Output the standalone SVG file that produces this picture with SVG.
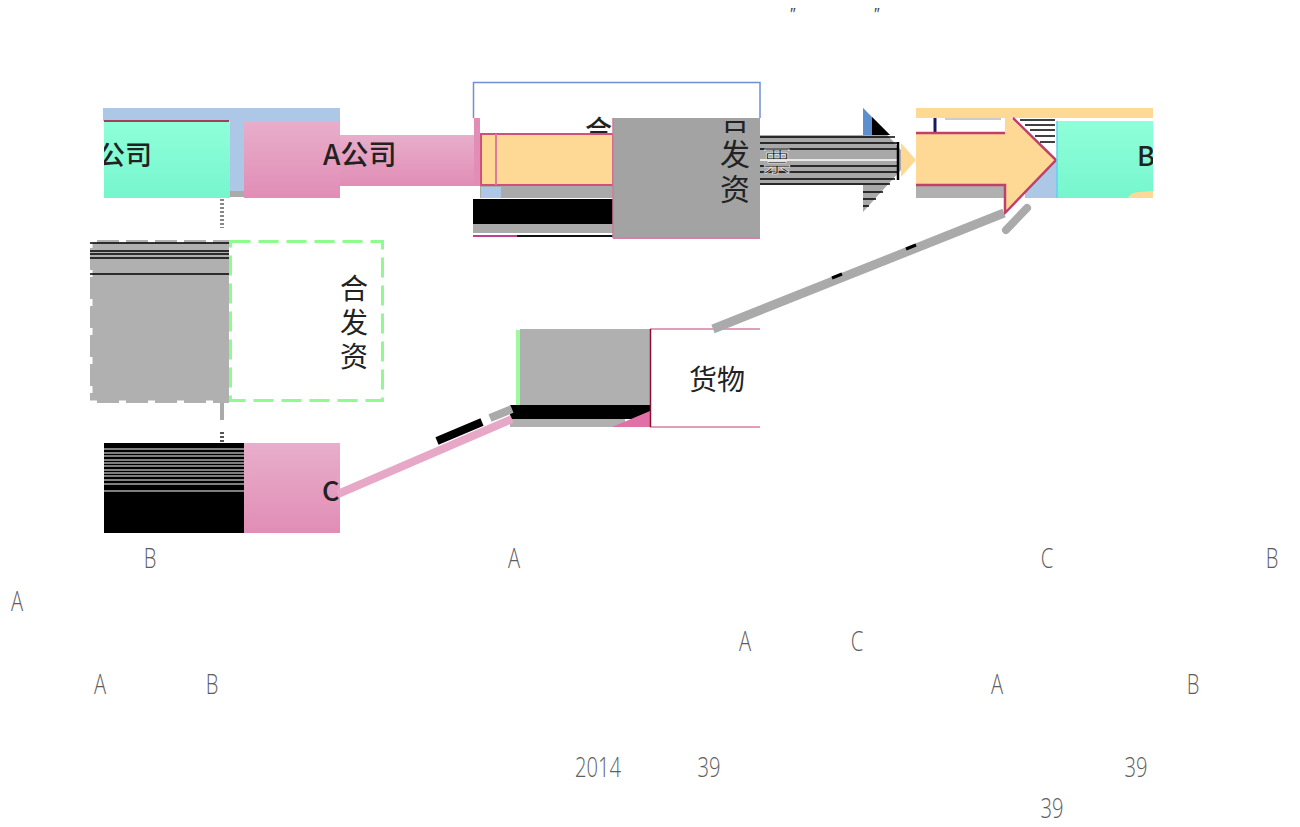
<svg xmlns="http://www.w3.org/2000/svg" width="1300" height="827" viewBox="0 0 1300 827">
<defs>
<linearGradient id="teal" x1="0" y1="0" x2="0" y2="1"><stop offset="0" stop-color="#8fffd9"/><stop offset="1" stop-color="#76f6cd"/></linearGradient>
<linearGradient id="pink" x1="0" y1="0" x2="0" y2="1"><stop offset="0" stop-color="#e8aecb"/><stop offset="1" stop-color="#e18db5"/></linearGradient>
<clipPath id="clipTL"><rect x="104" y="121" width="126" height="77"/></clipPath>
<clipPath id="clipGray"><rect x="613" y="118" width="147" height="120"/></clipPath>
<clipPath id="clipB"><rect x="1057" y="121" width="96" height="77"/></clipPath>
<clipPath id="clipC"><rect x="244" y="443" width="96" height="90"/></clipPath>
</defs>
<style>
.cjk{font-family:"Noto Sans CJK SC","Noto Sans",sans-serif;font-size:27px;font-weight:500;fill:#222;}
.vert{writing-mode:tb;glyph-orientation-vertical:0;}
.lbl{font-family:"Open Sans","Liberation Sans",sans-serif;font-weight:300;font-size:28px;fill:#5e5e5e;text-anchor:middle;}
.stripe{stroke:#000;stroke-width:1.5;}
.gstripe{stroke:#aaa;stroke-width:1.5;}
</style>
<rect width="1300" height="827" fill="#fff"/>

<!-- top quotes -->
<text x="792" y="20" font-family="Liberation Sans, sans-serif" font-size="16" fill="#444" text-anchor="middle" font-style="italic">″</text>
<text x="876" y="20" font-family="Liberation Sans, sans-serif" font-size="16" fill="#444" text-anchor="middle" font-style="italic">″</text>

<!-- Node: B company (top-left teal) -->
<g id="node-b-company-left">
<rect x="103" y="108" width="237" height="13" fill="#adc7e7"/>
<rect x="104" y="121" width="126" height="77" fill="url(#teal)"/>
<line x1="104" y1="121" x2="229" y2="121" stroke="#a0405a" stroke-width="2"/>
<text class="cjk" x="98" y="165" clip-path="url(#clipTL)">公司</text>
<rect x="230" y="108" width="14" height="84" fill="#adc7e7"/>
<rect x="230" y="191" width="14" height="6" fill="#aaa"/>
</g>
<!-- Node: A company -->
<g id="node-a-company">
<rect x="244" y="121" width="96" height="77" fill="url(#pink)"/>
<rect x="340" y="135" width="140" height="51" fill="url(#pink)"/>
<text class="cjk" x="323" y="165" style="font-size:28px">A公司</text>
</g>

<!-- Node: contract (green dashed) -->
<g id="node-contract-left">
<rect x="90" y="240" width="139" height="163" fill="#b0b0b0"/>
<path d="M90,241 H229 M91,241 V403 M90,402 H229" fill="none" stroke="#fff" stroke-width="3" stroke-dasharray="7 22"/>
<line class="stripe" x1="90" y1="243" x2="229" y2="243"/>
<line class="stripe" x1="90" y1="251" x2="229" y2="251"/>
<line class="stripe" x1="90" y1="254" x2="229" y2="254"/>
<line class="stripe" x1="90" y1="258" x2="229" y2="258"/>
<line class="stripe" x1="90" y1="274" x2="229" y2="274"/>
<rect x="230.5" y="241.5" width="152" height="159" fill="#fff" stroke="#8efb8e" stroke-width="3" stroke-dasharray="20 8"/>
<text class="cjk vert" x="354" y="274" style="font-size:28px;font-weight:400" letter-spacing="6">合发资</text>
</g>

<!-- Node: C company -->
<g id="node-c-company">
<rect x="104" y="443" width="140" height="90" fill="#000"/>
<line class="gstripe" x1="104" y1="449" x2="244" y2="449"/>
<line class="gstripe" x1="104" y1="453" x2="244" y2="453"/>
<line class="gstripe" x1="104" y1="456" x2="244" y2="456"/>
<line class="gstripe" x1="104" y1="460" x2="244" y2="460"/>
<line class="gstripe" x1="104" y1="463" x2="244" y2="463"/>
<line class="gstripe" x1="104" y1="466" x2="244" y2="466"/>
<line class="gstripe" x1="104" y1="470" x2="244" y2="470"/>
<line class="gstripe" x1="104" y1="473" x2="244" y2="473"/>
<line class="gstripe" x1="104" y1="476" x2="244" y2="476"/>
<line class="gstripe" x1="104" y1="480" x2="244" y2="480"/>
<line class="gstripe" x1="104" y1="484" x2="244" y2="484"/>
<line class="gstripe" x1="104" y1="491" x2="244" y2="491"/>
<rect x="244" y="443" width="96" height="90" fill="url(#pink)"/>
<text class="cjk" x="322" y="501" clip-path="url(#clipC)">C</text>
</g>

<!-- Node: contract (top middle) -->
<g id="node-contract-top">
<path d="M473.5,118 V82.5 H760 V118" fill="none" stroke="#7090d0" stroke-width="1.5"/>
<text class="cjk" x="585" y="140" letter-spacing="14">合同</text>
<rect x="474" y="118" width="6" height="68" fill="#e18db5"/>
<rect x="481" y="134" width="132" height="51" fill="#fdd995" stroke="#d0507a" stroke-width="2"/>
<line x1="496" y1="134" x2="496" y2="185" stroke="#e07a9a" stroke-width="2"/>
<rect x="480" y="186" width="133" height="12" fill="#aaa"/>
<rect x="481" y="187" width="20" height="11" fill="#adc7e7"/>
<rect x="473" y="199" width="140" height="25" fill="#000"/>
<rect x="473" y="224" width="140" height="9" fill="#aaa"/>
<line x1="473" y1="236" x2="613" y2="236" stroke="#111" stroke-width="2"/>
<line x1="473" y1="236" x2="517" y2="236" stroke="#c04090" stroke-width="2"/>
</g>

<!-- Node: invoice / issued funds (gray) -->
<g id="node-invoice">
<rect x="613" y="118" width="147" height="120" fill="#a3a3a3"/>
<line x1="613" y1="118" x2="613" y2="238" stroke="#d07a9a" stroke-width="1.5"/>
<line x1="613" y1="238" x2="760" y2="238" stroke="#d87fa5" stroke-width="2"/>
<g clip-path="url(#clipGray)">
<text class="cjk vert" x="735" y="104" style="font-size:30px;font-weight:400" letter-spacing="5">合发资</text>
</g>
</g>

<!-- Invoice arrow -->
<g id="node-invoice-arrow">
<polygon points="760,135 863,135 863,108 910,160 863,212 863,185 760,185" fill="#a8a8a8"/>
<polygon points="863,108 890,135 863,135" fill="#5b8fd0"/>
<polygon points="872,117 890,135 872,135" fill="#000"/>
<line class="stripe" x1="760" y1="137" x2="895" y2="137"/>
<line class="stripe" x1="760" y1="143" x2="898" y2="143"/>
<line class="stripe" x1="760" y1="149" x2="898" y2="149"/>
<line x1="760" y1="160" x2="898" y2="160" stroke="#fff" stroke-width="1.5"/>
<line class="stripe" x1="760" y1="166" x2="898" y2="166"/>
<line class="stripe" x1="760" y1="172" x2="898" y2="172"/>
<line class="stripe" x1="760" y1="179" x2="895" y2="179"/>
<line class="stripe" x1="760" y1="184" x2="890" y2="184"/>
<line class="stripe" x1="863" y1="192" x2="883" y2="192"/>
<line class="stripe" x1="863" y1="199" x2="876" y2="199"/>
<line class="stripe" x1="863" y1="206" x2="869" y2="206"/>
<line x1="898" y1="142" x2="898" y2="180" stroke="#000" stroke-width="2.5"/>
<polygon points="901,143 916,160 901,177" fill="#fdd995"/>
<text class="cjk" x="777" y="172" text-anchor="middle" style="font-size:28px;font-weight:400" fill="#333" stroke="#fff" stroke-width="0.6">票</text>
</g>

<!-- Node: B company (right) -->
<g id="node-b-company-right">
<rect x="916" y="108" width="237" height="10" fill="#fdd995"/>
<line x1="935" y1="118" x2="935" y2="133" stroke="#1a1a60" stroke-width="3"/>
<line x1="945" y1="119" x2="1001" y2="119" stroke="#bbb" stroke-width="1.5"/>
<line class="stripe" x1="1020" y1="120" x2="1055" y2="120"/>
<line class="stripe" x1="1025" y1="125" x2="1055" y2="125"/>
<line class="stripe" x1="1030" y1="130" x2="1055" y2="130"/>
<line class="stripe" x1="1035" y1="136" x2="1055" y2="136"/>
<line class="stripe" x1="1040" y1="142" x2="1055" y2="142"/>
<rect x="1025" y="160" width="32" height="38" fill="#adc7e7"/>
<rect x="916" y="185" width="89" height="13" fill="#b0b0b0"/>
<polygon points="916,133 1005,133 1005,113 1056,160 1005,213 1005,185 916,185" fill="#fdd995"/>
<path d="M916,133 H1005 M1013,118 L1056,160 L1005,213 V185 H916" fill="none" stroke="#c0406a" stroke-width="2.5"/>
<rect x="1057" y="121" width="96" height="77" fill="url(#teal)"/>
<line x1="1057" y1="121" x2="1057" y2="198" stroke="#5fd0f0" stroke-width="1.5"/>
<text class="cjk" x="1137" y="166" clip-path="url(#clipB)">B公司</text>
<path d="M1128,198 Q1130,192 1140,192 L1153,191 V198 Z" fill="#fdd995"/>
</g>

<!-- Node: goods -->
<g id="node-goods">
<rect x="520" y="329" width="130" height="76" fill="#b0b0b0"/>
<rect x="516" y="330" width="4" height="75" fill="#9cfb9c"/>
<rect x="510" y="405" width="140" height="14" fill="#000"/>
<rect x="510" y="419" width="115" height="8" fill="#b0b0b0"/>
<polygon points="612,427 650,411 650,427" fill="#e070a5"/>
<rect x="650" y="329" width="110" height="98" fill="#fff"/>
<path d="M650,329 H760 M650,427 H760" stroke="#d87fa5" stroke-width="1.5" fill="none"/>
<line x1="650.5" y1="329" x2="650.5" y2="427" stroke="#8a1030" stroke-width="1.5"/>
<text class="cjk" x="717" y="390" text-anchor="middle" style="font-size:28px;font-weight:400">货物</text>
</g>

<!-- Connectors -->
<g id="connectors" fill="none">
<line x1="222" y1="199" x2="222" y2="228" stroke="#888" stroke-width="4" stroke-dasharray="2 2"/>
<line x1="222" y1="403" x2="222" y2="420" stroke="#aaa" stroke-width="4"/>
<line x1="222" y1="432" x2="222" y2="443" stroke="#555" stroke-width="4" stroke-dasharray="2 2"/>
<line x1="338" y1="494" x2="512" y2="419" stroke="#e6a8c6" stroke-width="8"/>
<line x1="437" y1="441" x2="482" y2="422" stroke="#000" stroke-width="8"/>
<line x1="490" y1="418" x2="512" y2="409" stroke="#aaa" stroke-width="8"/>
<line x1="713" y1="329" x2="1004" y2="213" stroke="#aaa" stroke-width="9"/>
<line x1="832" y1="278" x2="842" y2="274" stroke="#000" stroke-width="3"/>
<line x1="906" y1="249" x2="916" y2="245" stroke="#000" stroke-width="3"/>
<line x1="1006" y1="230" x2="1027" y2="208" stroke="#aaa" stroke-width="8" stroke-linecap="round"/>
</g>

<!-- Bottom labels -->
<g id="labels">
<text class="lbl" transform="translate(150,568) scale(0.72,1)">B</text>
<text class="lbl" transform="translate(514,568) scale(0.72,1)">A</text>
<text class="lbl" transform="translate(1047,568) scale(0.72,1)">C</text>
<text class="lbl" transform="translate(1272,568) scale(0.72,1)">B</text>
<text class="lbl" transform="translate(17,611) scale(0.72,1)">A</text>
<text class="lbl" transform="translate(745,651) scale(0.72,1)">A</text>
<text class="lbl" transform="translate(857,651) scale(0.72,1)">C</text>
<text class="lbl" transform="translate(100,694) scale(0.72,1)">A</text>
<text class="lbl" transform="translate(212,694) scale(0.72,1)">B</text>
<text class="lbl" transform="translate(997,694) scale(0.72,1)">A</text>
<text class="lbl" transform="translate(1193,694) scale(0.72,1)">B</text>
<text class="lbl" transform="translate(598,777) scale(0.72,1)">2014</text>
<text class="lbl" transform="translate(709,777) scale(0.72,1)">39</text>
<text class="lbl" transform="translate(1136,777) scale(0.72,1)">39</text>
<text class="lbl" transform="translate(1052,818) scale(0.72,1)">39</text>
</g>
</svg>
